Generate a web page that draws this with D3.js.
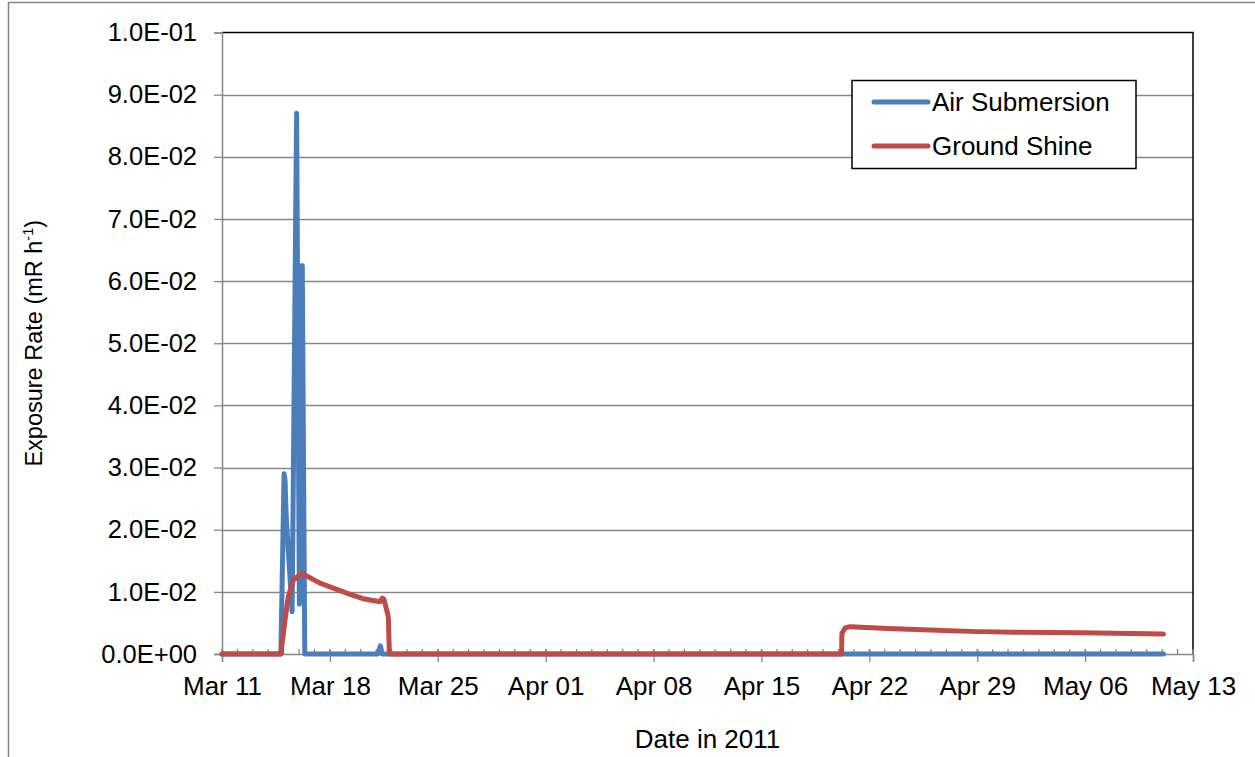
<!DOCTYPE html>
<html><head><meta charset="utf-8">
<script src="https://cdn.jsdelivr.net/npm/d3@7"></script>
<style>
body{margin:0;background:#fff;}
svg{display:block;font-family:"Liberation Sans",Arial,sans-serif;}
</style></head>
<body>
<svg id="c" width="1255" height="757"></svg>
<script>
// ---- data ----
const airDates = ["2011-03-11T00:00","2011-03-14T19:40","2011-03-15T00:40","2011-03-15T02:10","2011-03-15T04:00","2011-03-15T13:12","2011-03-15T20:10","2011-03-16T00:30","2011-03-16T05:00","2011-03-16T08:53","2011-03-21T02:24","2011-03-21T06:30","2011-03-21T09:36","2011-05-11T02:00"];
const airValues = [0,0,0.029,0.028,0.022,0.0068,0.087,0.008,0.0625,0,0,0.0013,0,0];
const groundDates = ["2011-03-11T00:00","2011-03-14T19:40","2011-03-15T02:10","2011-03-15T07:12","2011-03-15T15:06","2011-03-16T04:05","2011-03-17T08:38","2011-03-18T00:14","2011-03-19T07:26","2011-03-20T03:36","2011-03-21T06:00","2011-03-21T09:36","2011-03-21T12:14","2011-03-21T19:00","2011-03-21T20:38","2011-04-20T04:48","2011-04-20T05:16","2011-04-20T10:19","2011-04-20T18:00","2011-04-23T05:00","2011-04-25T11:00","2011-04-28T23:31","2011-05-01T12:00","2011-05-05T20:00","2011-05-11T02:00"];
const groundValues = [0,0,0.0055,0.0092,0.0119,0.013,0.0114,0.0108,0.0096,0.0089,0.0084,0.009,0.0088,0.006,0,0,0.0033,0.0042,0.0044,0.0041,0.0039,0.0036,0.0035,0.0034,0.0032];
const seriesNames = ["Air Submersion","Ground Shine"];
const xTickLabels = ["Mar 11","Mar 18","Mar 25","Apr 01","Apr 08","Apr 15","Apr 22","Apr 29","May 06","May 13"];
const yTicks = [0,0.01,0.02,0.03,0.04,0.05,0.06,0.07,0.08,0.09,0.1];
const yTickLabels = ["0.0E+00","1.0E-02","2.0E-02","3.0E-02","4.0E-02","5.0E-02","6.0E-02","7.0E-02","8.0E-02","9.0E-02","1.0E-01"];

const colors = ["#4A7EBB","#BE4B48"];
const FS = 26;
const svg = d3.select("#c");
const L=222, R=1193, T=32.5, B=654;
const parse = d3.timeParse("%Y-%m-%dT%H:%M");
const x = d3.scaleTime().domain([new Date(2011,2,11), new Date(2011,4,13)]).range([L,R]);
const y = d3.scaleLinear().domain([0,0.1]).range([B,T]);

// outer border
svg.append("rect").attr("x",8.5).attr("y",2.5).attr("width",1300).attr("height",800)
  .attr("fill","none").attr("stroke","#868686").attr("stroke-width",1.5);

// gridlines
svg.append("g").selectAll("line").data(yTicks.slice(1,-1)).join("line")
  .attr("x1",L).attr("x2",R).attr("y1",d=>Math.round(y(d))+0.5).attr("y2",d=>Math.round(y(d))+0.5)
  .attr("stroke","#868686").attr("stroke-width",1.3);

// plot top/right border
svg.append("path").attr("d",`M${L},${T}H${R}V${B}`).attr("fill","none").attr("stroke","#000").attr("stroke-width",1.5);

// y axis
const yAxis = d3.axisLeft(y).tickValues(yTicks).tickSize(8).tickPadding(17)
  .tickFormat((d,i)=>yTickLabels[i]);
const gy = svg.append("g").attr("transform",`translate(${L},0)`).call(yAxis);
gy.select(".domain").attr("stroke","#868686").attr("stroke-width",1.5);
gy.selectAll(".tick line").attr("stroke","#868686").attr("stroke-width",1.3);
gy.selectAll(".tick text").attr("font-size",25.5).attr("fill","#000").attr("font-family","Liberation Sans, Arial");

// x axis minor ticks (daily, inside)
const days = d3.timeDay.range(new Date(2011,2,11), new Date(2011,4,14));
svg.append("g").selectAll("line").data(days).join("line")
  .attr("x1",d=>x(d)).attr("x2",d=>x(d)).attr("y1",B-5).attr("y2",B)
  .attr("stroke","#868686").attr("stroke-width",1.3);
// x axis major (weekly)
const majors = d3.range(xTickLabels.length).map(i=>d3.timeDay.offset(new Date(2011,2,11),i*7));
const xAxis = d3.axisBottom(x).tickValues(majors).tickSize(8)
  .tickFormat((d,i)=>xTickLabels[i]);
const gx = svg.append("g").attr("transform",`translate(0,${B})`).call(xAxis);
gx.select(".domain").attr("stroke","#868686").attr("stroke-width",1.5);
gx.selectAll(".tick line").attr("stroke","#868686").attr("stroke-width",1.3).attr("y1",-5);
gx.selectAll(".tick text").attr("font-size",FS).attr("fill","#000").attr("font-family","Liberation Sans, Arial")
  .attr("y",41).attr("dy",0);

// lines
const line = d3.line().x(d=>x(d[0])).y(d=>y(d[1])).curve(d3.curveLinear);
const series = [
  d3.zip(airDates.map(parse), airValues),
  d3.zip(groundDates.map(parse), groundValues)
];
series.forEach((s,i)=>{
  svg.append("path").datum(s).attr("d",line).attr("fill","none")
    .attr("stroke",colors[i]).attr("stroke-width",5).attr("stroke-linejoin","round").attr("stroke-linecap","round");
});

// axis titles
svg.append("text").attr("x",(L+R)/2).attr("y",748).attr("text-anchor","middle")
  .attr("font-size",FS).text("Date in 2011");
const yt = svg.append("text").attr("transform",`translate(42,${(T+B)/2}) rotate(-90)`)
  .attr("text-anchor","middle").attr("font-size",23.5);
yt.append("tspan").text("Exposure Rate (mR h");
yt.append("tspan").attr("font-size",14.5).attr("dy",-9).text("-1");
yt.append("tspan").attr("dy",9).text(")");

// legend
const lg = svg.append("g");
lg.append("rect").attr("x",852).attr("y",80.5).attr("width",284).attr("height",88)
  .attr("fill","#fff").attr("stroke","#000").attr("stroke-width",1.5);
seriesNames.forEach((n,i)=>{
  const yy = 102 + i*44;
  lg.append("line").attr("x1",874).attr("x2",928).attr("y1",yy).attr("y2",yy)
    .attr("stroke",colors[i]).attr("stroke-width",5).attr("stroke-linecap","round");
  lg.append("text").attr("x",932).attr("y",yy+9).attr("font-size",FS).text(n);
});
</script>
</body></html>
